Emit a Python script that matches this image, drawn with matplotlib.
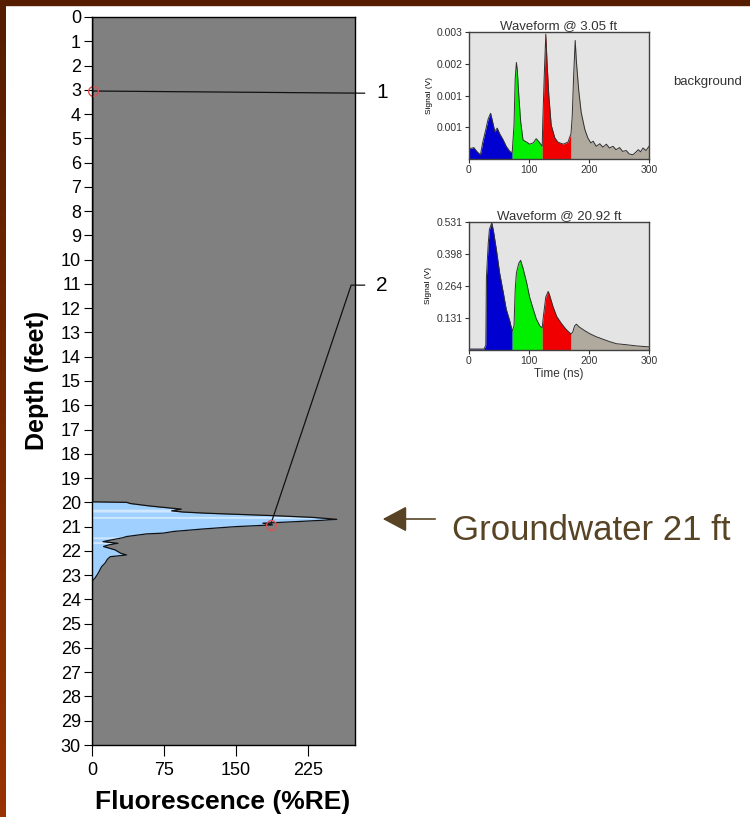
import matplotlib
matplotlib.use("Agg")
import matplotlib.pyplot as plt
import numpy as np

plt.rcParams['font.family'] = ['Liberation Sans', 'DejaVu Sans']

# fluorescence log: depth (ft) vs response (%RE)
depth_ft = [0.0, 3.05, 19.98, 20.0, 20.05, 20.15, 20.28, 20.35, 20.40, 20.45,
            20.55, 20.62, 20.70, 20.74, 20.80, 20.86, 20.93, 21.0, 21.1, 21.2,
            21.27, 21.30, 21.41, 21.46, 21.55, 21.62, 21.69, 21.75, 21.82, 21.96,
            22.1, 22.17, 22.24, 22.35, 22.51, 22.65, 22.78, 22.95, 23.13, 23.2,
            23.3, 30.0]
fluor_re = [0.8, 1.0, 1.0, 36, 40, 60, 93, 83, 95, 120,
            190, 230, 255, 240, 210, 178, 188, 150, 115, 85,
            74, 57, 36, 32, 20, 11.5, 27, 18, 12, 24,
            30, 36, 19, 16, 13.5, 10, 8.3, 6, 3, 1,
            0.5, 0.5]

# paler stripes inside the fluorescence fill (depth ranges)
pale_bands = [(20.28, 20.40), (20.58, 20.66), (21.42, 21.50), (21.62, 21.70)]

depth_ticks = list(range(0, 31))
fluor_ticks = [0, 75, 150, 225]

# picked waveforms: (depth, value) of the marked points
picks = [(3.05, 1.0), (20.93, 186.0)]
pick_labels = ['1', '2']

# waveform @ 3.05 ft
wf1_t = [0, 8, 13, 19, 23, 28, 32, 36, 39, 43, 47, 51, 57, 62, 68, 72,
         75, 77, 79, 80.5, 83, 86, 90, 96, 101, 107, 112, 117, 122,
         123, 125.5, 128, 130, 133, 137, 143, 148, 157, 165, 170,
         172, 174.5, 177, 179, 183, 187, 193, 198, 203, 207, 212, 218, 223,
         229, 234, 240, 245, 251, 256, 262, 267, 273, 278, 282, 286, 290, 295, 300]
wf1_v = [0.00024, 0.00027, 0.00018, 0.0001, 0.0004, 0.0007, 0.00095, 0.00108, 0.0009,
         0.00065, 0.00073, 0.0006, 0.00045, 0.0003, 0.00018, 0.00015,
         0.0008, 0.0019, 0.00228, 0.0021, 0.0015, 0.0009, 0.00045, 0.0004, 0.00035,
         0.00038, 0.00048, 0.0004, 0.0003,
         0.0009, 0.002, 0.00295, 0.0023, 0.0015, 0.0008, 0.0005, 0.0004, 0.00035,
         0.0004, 0.0006,
         0.001, 0.002, 0.0028, 0.0023, 0.0016, 0.0011, 0.0007, 0.0005, 0.00038,
         0.00042, 0.0003, 0.00036, 0.00028, 0.00035, 0.00026, 0.0003, 0.00022,
         0.00027, 0.00018, 0.0002, 0.00012, 0.0001, 0.00016, 0.00022, 0.00017,
         0.00026, 0.0002, 0.0003]

# waveform @ 20.92 ft
wf2_t = [0, 25, 28, 29, 32, 34, 38, 41, 46, 51, 57, 62, 68, 72,
         75, 77, 79, 83, 86, 90, 96, 101, 107, 112, 118, 122,
         124, 128, 132, 134, 140, 146, 154, 162, 170,
         173, 176, 179, 184, 193, 201, 212, 223, 234, 246, 262, 279, 300]
wf2_v = [0.004, 0.004, 0.02, 0.3, 0.44, 0.5, 0.528, 0.49, 0.41, 0.32, 0.24, 0.17,
         0.12, 0.078,
         0.1, 0.25, 0.32, 0.36, 0.372, 0.34, 0.28, 0.22, 0.17, 0.13, 0.1, 0.092,
         0.14, 0.22, 0.243, 0.23, 0.18, 0.14, 0.11, 0.085, 0.066,
         0.075, 0.1, 0.107, 0.095, 0.08, 0.068, 0.055, 0.045, 0.035, 0.026,
         0.022, 0.017, 0.013]

gates_ns = [0, 72, 122, 170, 300]
gate_colors = ['#0000d0', '#00f000', '#f00000', '#b0aa9e']

wf1_yticks = [0.003, 0.00225, 0.0015, 0.00075]
wf1_yticklabels = ['0.003', '0.002', '0.001', '0.001']
wf2_yticks = [0.531, 0.398, 0.264, 0.131]
wf2_yticklabels = ['0.531', '0.398', '0.264', '0.131']
time_ticks = [0, 100, 200, 300]

W, H = 750, 817
fig = plt.figure(figsize=(W / 100, H / 100), dpi=100)
fig.patch.set_facecolor('white')

# slide frame: dark top bar and a brown gradient on the left
fig.add_artist(plt.Rectangle((0, 1 - 5 / H), 1, 5 / H, transform=fig.transFigure,
                             color='#561d00', zorder=0))
edge = fig.add_axes([0, 0, 6 / W, 1 - 5 / H])
grad = np.linspace(0, 1, 256).reshape(-1, 1)
top_rgb = np.array([0x56, 0x1d, 0x00]) / 255
bot_rgb = np.array([0x99, 0x33, 0x00]) / 255
edge.imshow((top_rgb + grad[..., None] * (bot_rgb - top_rgb)), aspect='auto')
edge.axis('off')

# main fluorescence log
ax = fig.add_axes([92 / W, 1 - 745 / H, 263 / W, 728 / H])
ax.set_facecolor('#808080')
ax.fill_betweenx(depth_ft, 0, fluor_re, color='#9fd0ff', lw=0)
d_arr = np.asarray(depth_ft)
f_arr = np.asarray(fluor_re)
for lo, hi in pale_bands:
    dd = np.linspace(lo, hi, 20)
    ax.fill_betweenx(dd, 0, np.interp(dd, d_arr, f_arr) * 0.97, color='#cfe8ff', lw=0)
ax.plot(fluor_re, depth_ft, color='#111111', lw=0.9)
ax.set_xlim(0, 274)
ax.set_ylim(30, 0)
ax.set_yticks(depth_ticks)
ax.set_xticks(fluor_ticks)
ax.tick_params(axis='y', labelsize=13, length=6, pad=2)
ax.tick_params(axis='x', labelsize=13, length=8, pad=4)
for s in ax.spines.values():
    s.set_linewidth(1)

# leader lines from the picked points to the waveform labels
d1, v1 = picks[0]
ax.plot([v1, 284], [d1, 3.14], color='#111111', lw=0.9, clip_on=False)
d2, v2 = picks[1]
ax.plot([v2, 270, 284], [d2, 11.05, 11.05], color='#111111', lw=0.9, clip_on=False)
for (d, v) in picks:
    ax.plot(v, d, 'o', ms=7, mfc='none', mec='#e05050', mew=1, clip_on=False)
ax.text(296, 3.12, pick_labels[0], fontsize=15, va='center', ha='left', clip_on=False)
ax.text(296, 11.05, pick_labels[1], fontsize=15, va='center', ha='left', clip_on=False)

fig.text(37 / W, 1 - 380 / H, 'Depth (feet)', rotation=90, fontsize=18,
         fontweight='bold', ha='center', va='center')
fig.text(223 / W, 1 - 802 / H, 'Fluorescence (%RE)', fontsize=19,
         fontweight='bold', ha='center', va='center')


def draw_waveform(rect, t, v, ymax, yticks, yticklabels, title, xlabel=None):
    wax = fig.add_axes(rect)
    wax.set_facecolor('#e4e4e4')
    t = np.asarray(t, float)
    v = np.asarray(v, float)
    for i, c in enumerate(gate_colors):
        m = (t >= gates_ns[i]) & (t <= gates_ns[i + 1])
        wax.fill_between(t[m], 0, v[m], color=c, lw=0)
    wax.plot(t, v, color='#303030', lw=0.7)
    wax.set_xlim(0, 300)
    wax.set_ylim(0, ymax)
    wax.set_xticks(time_ticks)
    wax.set_yticks(yticks)
    wax.set_yticklabels(yticklabels)
    wax.tick_params(labelsize=7.5, length=3, pad=1.5, colors='#333333')
    wax.set_title(title, fontsize=9.5, pad=2, color='#333333')
    wax.set_ylabel('Signal (V)', fontsize=6, labelpad=3)
    if xlabel:
        wax.set_xlabel(xlabel, fontsize=8.5, labelpad=1, color='#333333')
    for s in wax.spines.values():
        s.set_color('#404040')
        s.set_linewidth(1)
    return wax


draw_waveform([469 / W, 1 - 159 / H, 180 / W, 127 / H], wf1_t, wf1_v, 0.003,
              wf1_yticks, wf1_yticklabels, 'Waveform @ 3.05 ft')
draw_waveform([469 / W, 1 - 350 / H, 180 / W, 128 / H], wf2_t, wf2_v, 0.531,
              wf2_yticks, wf2_yticklabels, 'Waveform @ 20.92 ft', 'Time (ns)')

fig.text(673 / W, 1 - 82 / H, 'background', fontsize=9.5, ha='left', va='center',
         color='#333333')

# groundwater callout
brown = '#584424'
fig.add_artist(matplotlib.patches.FancyArrowPatch(
    (438 / W, 1 - 519 / H), (380 / W, 1 - 519 / H), transform=fig.transFigure,
    arrowstyle='-|>,head_length=0.75,head_width=0.4', mutation_scale=20,
    color=brown, lw=1.2))
fig.text(452 / W, 1 - 540 / H, 'Groundwater 21 ft', fontsize=25, color=brown,
         ha='left', va='baseline')

fig.savefig('out.png', dpi=100)
